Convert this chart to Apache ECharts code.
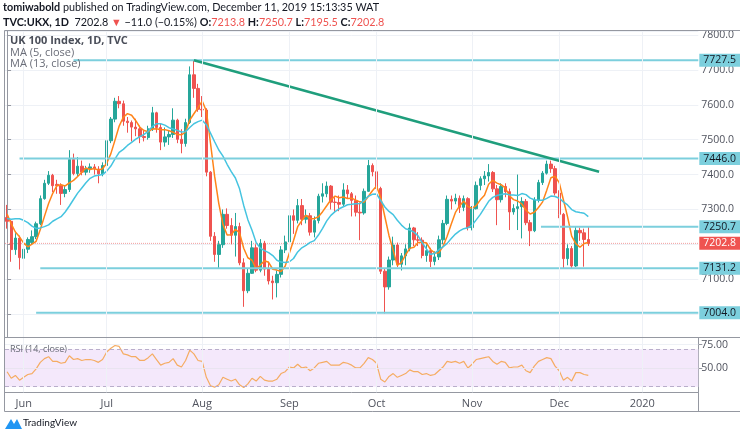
<!DOCTYPE html>
<html><head><meta charset="utf-8">
<script src="https://cdn.jsdelivr.net/npm/echarts@6/dist/echarts.min.js"></script>
<style>html,body{margin:0;padding:0;background:#fff}#c{width:740px;height:437px}</style>
</head><body><div id="c"></div>
<script>
// ---- trading sessions (day numbers per month) ----
const sessionDays = [
  ['2019-05', [28,29,30,31]],
  ['2019-06', [3,4,5,6,7,10,11,12,13,14,17,18,19,20,21,24,25,26,27,28]],
  ['2019-07', [1,2,3,4,5,8,9,10,11,12,15,16,17,18,19,22,23,24,25,26,29,30,31]],
  ['2019-08', [1,2,5,6,7,8,9,12,13,14,15,16,19,20,21,22,23,27,28,29,30]],
  ['2019-09', [2,3,4,5,6,9,10,11,12,13,16,17,18,19,20,23,24,25,26,27,30]],
  ['2019-10', [1,2,3,4,7,8,9,10,11,14,15,16,17,18,21,22,23,24,25,28,29,30,31]],
  ['2019-11', [1,4,5,6,7,8,11,12,13,14,15,18,19,20,21,22,25,26,27,28,29]],
  ['2019-12', [2,3,4,5,6,9,10,11,12,13,16,17,18,19,20,23,24,27,30,31]],
  ['2020-01', [2,3,6,7,8,9,10,13,14,15,16,17,20,21]]
];
const monthTickLabels = ['Jun','Jul','Aug','Sep','Oct','Nov','Dec','2020'];

// ---- OHLC (UK 100, daily) ----
const opens = [7277,7266,7185,7218,7160,7186,7205,7222,7259,7331,7375,7398,7372,7368,7346,7357,7443,7403,7424,7407,7417,7422,7416,7402,
7426,7497,7559,7610,7603,7553,7549,7536,7531,7509,7506,7531,7577,7535,7493,7508,7515,7556,7501,7489,7549,7686,7647,7587,
7585,7407,7223,7171,7199,7286,7254,7226,7251,7147,7067,7117,7190,7126,7203,7129,7095,7090,7114,7184,
7207,7282,7269,7311,7272,7282,7235,7268,7338,7345,7367,7321,7320,7315,7356,7345,7326,7292,7290,7352,7426,
7408,7360,7123,7078,7155,7198,7143,7167,7187,7247,7213,7212,7168,7182,7151,7164,7213,7260,7329,7324,7332,7306,7331,
7248,7302,7369,7388,7396,7406,7359,7328,7366,7351,7293,7303,7308,7323,7262,7239,7327,7377,7404,7430,7417,
7347,7286,7159,7188,7138,7240,7233,7213.8];
const highs = [7313,7270,7232,7225,7195,7220,7240,7265,7340,7385,7410,7402,7385,7375,7368,7470,7460,7450,7440,7425,7432,7430,7424,7435,
7525,7565,7620,7625,7612,7565,7555,7560,7540,7525,7540,7594,7580,7545,7535,7525,7590,7560,7530,7560,7710,7727.5,7660,7625,
7590,7410,7235,7210,7300,7303,7275,7290,7262,7160,7130,7210,7200,7215,7210,7150,7110,7125,7195,7225,
7313,7300,7330,7330,7300,7290,7280,7345,7375,7380,7370,7335,7340,7375,7370,7350,7340,7320,7360,7442,7432,
7415,7365,7130,7165,7222,7205,7175,7200,7260,7250,7235,7220,7200,7190,7180,7225,7270,7340,7340,7345,7340,7340,
7335,7310,7380,7395,7410,7430,7410,7370,7375,7375,7360,7315,7400,7335,7330,7270,7335,7385,7410,7440,7440,
7425,7355,7290,7200,7195,7250,7248,7245,7250.7];
const lows = [7245,7150,7170,7128,7079,7175,7200,7215,7255,7328,7370,7350,7345,7313,7335,7350,7398,7395,7398,7398,7405,7400,7375,7395,
7426,7490,7550,7590,7540,7520,7495,7510,7490,7495,7500,7525,7520,7470,7480,7485,7505,7490,7461,7480,7545,7620,7580,7565,
7395,7210,7150,7130,7190,7245,7200,7165,7140,7021,7060,7115,7120,7120,7110,7085,7042,7048,7105,7175,
7200,7230,7260,7255,7260,7225,7220,7260,7320,7335,7300,7290,7295,7310,7330,7280,7280,7212,7285,7350,7395,
7350,7115,7002,7070,7140,7135,7125,7140,7180,7195,7195,7160,7150,7135,7140,7155,7200,7255,7300,7315,7290,7295,
7240,7240,7300,7355,7370,7380,7350,7255,7320,7335,7241,7285,7241,7217,7255,7195,7235,7320,7370,7400,7405,
7340,7275,7131,7140,7131,7135,7210,7136,7195.5];
const closes = [7266,7185,7218,7162,7186,7214,7222,7259,7331,7375,7398,7368,7368,7346,7357,7443,7403,7424,7407,7417,7422,7416,7402,7426,
7497,7559,7610,7603,7553,7549,7536,7531,7509,7506,7531,7577,7535,7493,7508,7515,7556,7501,7489,7549,7686,7647,7587,7585,
7407,7223,7171,7199,7286,7254,7226,7251,7147,7067,7117,7190,7126,7203,7129,7095,7090,7114,7184,7207,
7282,7269,7311,7272,7282,7235,7268,7338,7345,7367,7321,7320,7315,7356,7345,7326,7292,7290,7352,7426,7408,
7360,7123,7078,7155,7198,7143,7167,7187,7247,7213,7212,7168,7182,7151,7164,7213,7260,7329,7324,7332,7306,7331,
7248,7302,7369,7388,7396,7406,7359,7328,7366,7351,7293,7303,7308,7323,7262,7239,7327,7377,7404,7430,7417,
7347,7286,7159,7188,7138,7240,7233,7214,7202.8];
// sessions before the first visible bar, implied by the starting level of the MA lines
const priorCloses = [7208,7203,7164,7242,7297,7353,7348,7310,7328,7334,7231,7277];

// ---- RSI (14, close) ----
const rsi = [46,39,42,37,40,43,44,49,56,60,62,57,57,55,56,63,59,60,58,59,59,58,56,59,
67,71,74,73,65,64,62,62,58,58,61,65,59,53,55,56,60,53,51,58,69,65,58,57,
40,31,29.5,32,40,38,36,38,32,29,33,39,36,41,37,36,36,38,44,46,
51,50,54,50,51,47,50,55,56,57,53,53,53,56,55,53,50,50,55,61,59,
55,38,35,41,44,40,42,44,48,46,46,43,44,42,43,47,51,57,56,57,55,57,
50,54,59,60,61,62,57,54,57,56,50,51,51,53,47,45,52,57,59,61,60,
52,47,37,40,36,45,45,43,42];

// ---- drawn levels ----
const levelPrices = [7727.5, 7446.0, 7250.7, 7131.2, 7004.0];
const levelStartBar = [16, 3, 128.6, 8, 7];
const lastPrice = 7202.8;
const trendBars = [45, 142.6];
const trendPrices = [7727.5, 7408];
const rsiBands = [30, 70];
const rsiTickLabels = [50, 75];

// ---------------------------------------------------------------
const cats = [];
const monthStart = {};
sessionDays.forEach(([ym, days], mi) => {
  days.forEach((d, di) => {
    const s = ym + '-' + String(d).padStart(2, '0');
    cats.push(s);
    if (di === 0 && mi > 0) monthStart[s] = monthTickLabels[mi - 1];
  });
});
const rightEdge = cats.length - 0.5;

const candleData = opens.map((o, i) => [o, closes[i], lows[i], highs[i]]);
function movingAvg(n) {
  const all = priorCloses.concat(closes);
  const off = priorCloses.length;
  return closes.map((c, i) => {
    const j = i + off;
    const from = Math.max(0, j - n + 1);
    let s = 0; for (let k = from; k <= j; k++) s += all[k];
    return +(s / (j - from + 1)).toFixed(2);
  });
}
const ma5 = movingAvg(5), ma13 = movingAvg(13);

const GREEN = '#26a69a', RED = '#ef5350', LEVEL = '#7ccfdd';
const monthLines = Object.keys(monthStart).map(k => ({ xAxis: k }));
const FONT = 'Open Sans';
const HFONT = 'Lato', HSIZE = 10.8;

const series = [
  { type: 'line', xAxisIndex: 0, yAxisIndex: 0, data: [], z: 1, silent: true,
    markLine: { silent: true, symbol: 'none', label: { show: false },
      lineStyle: { color: '#eef1f6', width: 1, type: 'solid' }, data: monthLines } },
  { type: 'candlestick', xAxisIndex: 0, yAxisIndex: 0, data: candleData, barWidth: '70%', z: 2,
    itemStyle: { color: GREEN, color0: RED, borderColor: GREEN, borderColor0: RED, borderWidth: 1 } },
  { type: 'line', xAxisIndex: 0, yAxisIndex: 0, data: ma5, symbol: 'none', z: 3,
    lineStyle: { color: '#ff8419', width: 1.5 } },
  { type: 'line', xAxisIndex: 0, yAxisIndex: 0, data: ma13, symbol: 'none', z: 3,
    lineStyle: { color: '#45c4e0', width: 1.5 } },
  { type: 'line', xAxisIndex: 1, yAxisIndex: 0, data: [[-0.5, lastPrice], [rightEdge, lastPrice]], symbol: 'none', z: 2,
    lineStyle: { color: '#f3a0a0', width: 1, type: [1, 1] },
    endLabel: { show: true, formatter: () => lastPrice.toFixed(1), backgroundColor: RED, color: '#fff',
      fontSize: 10.5, fontFamily: FONT, padding: [1, 4, 1, 4], distance: 1 } },
];
levelPrices.forEach((p, i) => {
  series.push({ type: 'line', xAxisIndex: 1, yAxisIndex: 0, symbol: 'none', z: 4,
    data: [[levelStartBar[i], p], [rightEdge, p]],
    lineStyle: { color: LEVEL, width: 2 },
    endLabel: { show: true, formatter: () => p.toFixed(1), backgroundColor: LEVEL, color: '#131722',
      fontSize: 10.5, fontFamily: FONT, padding: [1, 4, 1, 4], distance: 1 } });
});
series.push({ type: 'line', xAxisIndex: 1, yAxisIndex: 0, symbol: 'none', z: 4,
  data: trendBars.map((b, i) => [b, trendPrices[i]]), lineStyle: { color: '#1f9e7c', width: 2.5 } });
series.push({ type: 'line', xAxisIndex: 2, yAxisIndex: 1, data: rsi, symbol: 'none', z: 3,
  lineStyle: { color: '#f5ac62', width: 1.2 },
  markArea: { silent: true, itemStyle: { color: '#f4e8fb' }, data: [[{ yAxis: rsiBands[0] }, { yAxis: rsiBands[1] }]] },
  markLine: { silent: true, symbol: 'none', label: { show: false },
    data: [
      { yAxis: rsiBands[0], lineStyle: { color: '#b9aecb', type: [4, 3], width: 1 } },
      { yAxis: rsiBands[1], lineStyle: { color: '#b9aecb', type: [4, 3], width: 1 } },
      { yAxis: rsiTickLabels[0], lineStyle: { color: '#e9e4f0', type: 'solid', width: 1 } },
      { yAxis: rsiTickLabels[1], lineStyle: { color: '#eef1f6', type: 'solid', width: 1 } }
    ].concat(monthLines.map(m => ({ xAxis: m.xAxis, lineStyle: { color: '#eef1f6', type: 'solid', width: 1 } }))) } });

const chart = echarts.init(document.getElementById('c'), null, { renderer: 'canvas' });
chart.setOption({
  animation: false,
  backgroundColor: '#fff',
  textStyle: { fontFamily: FONT },
  grid: [
    { left: 5, right: 41.7, top: 31, height: 306.5 },
    { left: 5, right: 41.7, top: 338, height: 54.3 }
  ],
  xAxis: [
    { type: 'category', gridIndex: 0, data: cats, boundaryGap: true,
      axisLine: { show: false }, axisTick: { show: false }, axisLabel: { show: false }, splitLine: { show: false } },
    { type: 'value', gridIndex: 0, min: -0.5, max: rightEdge, show: false },
    { type: 'category', gridIndex: 1, data: cats, boundaryGap: true,
      axisLine: { show: true, lineStyle: { color: '#9598a1' } }, axisTick: { show: false },
      axisLabel: { interval: (i, v) => monthStart[v] !== undefined, formatter: v => monthStart[v] || '',
        color: '#50535e', fontSize: 11, margin: 6, fontFamily: FONT },
      splitLine: { show: false } }
  ],
  yAxis: [
    { type: 'value', gridIndex: 0, position: 'right', min: 6933, max: 7811.5, splitNumber: 9,
      axisLine: { show: true, lineStyle: { color: '#9598a1' } },
      axisTick: { show: true, length: 4, lineStyle: { color: '#9598a1' } },
      axisLabel: { formatter: v => v.toFixed(1), color: '#50535e', fontSize: 10.5, margin: 3,
        showMinLabel: false, showMaxLabel: false, fontFamily: FONT },
      splitLine: { show: true, lineStyle: { color: '#eef1f6' } } },
    { type: 'value', gridIndex: 1, position: 'right', min: 24, max: 82,
      axisLine: { show: true, lineStyle: { color: '#9598a1' } },
      axisTick: { show: true, length: 4, customValues: rsiTickLabels, lineStyle: { color: '#9598a1' } },
      axisLabel: { customValues: rsiTickLabels, formatter: v => v.toFixed(2), color: '#50535e', fontSize: 10.5, margin: 3, fontFamily: FONT },
      splitLine: { show: false } }
  ],
  series,
  graphic: [
    // frame
    { type: 'line', shape: { x1: 4.5, y1: 30.5, x2: 740, y2: 30.5 }, style: { stroke: '#9598a1', lineWidth: 1 }, z: 100 },
    { type: 'line', shape: { x1: 4.5, y1: 30.5, x2: 4.5, y2: 411.5 }, style: { stroke: '#9598a1', lineWidth: 1 }, z: 100 },
    { type: 'line', shape: { x1: 4.5, y1: 411.5, x2: 740, y2: 411.5 }, style: { stroke: '#9598a1', lineWidth: 1 }, z: 100 },
    { type: 'line', shape: { x1: 4.5, y1: 337.5, x2: 740, y2: 337.5 }, style: { stroke: '#9598a1', lineWidth: 1 }, z: 100 },
    { type: 'line', shape: { x1: 698.5, y1: 392.5, x2: 698.5, y2: 411.5 }, style: { stroke: '#9598a1', lineWidth: 1 }, z: 100 },
    // header
    { type: 'text', left: 3, top: 2.5, z: 100, style: { text: '{b|tomiwabold} published on TradingView.com, December 11, 2019 15:13:35 WAT',
      fontSize: HSIZE, fontFamily: HFONT, fill: '#131722',
      rich: { b: { fontWeight: 'bold', fontSize: HSIZE, fontFamily: HFONT, fill: '#131722' } } } },
    { type: 'text', left: 3, top: 17, z: 100, style: {
      text: '{b|TVC:UKX, 1D}  7202.8 {r|▼} −11.0 (−0.15%) {b|O:}{r|7213.8} {b|H:}{r|7250.7} {b|L:}{r|7195.5} {b|C:}{r|7202.8}',
      fontSize: HSIZE, fontFamily: HFONT, fill: '#131722',
      rich: { b: { fontWeight: 'bold', fontSize: HSIZE, fontFamily: HFONT, fill: '#131722' },
              r: { fontSize: HSIZE, fontFamily: HFONT, fill: RED } } } },
    // legend
    { type: 'text', left: 10, top: 35, z: 100, style: { text: 'UK 100 Index, 1D, TVC', font: 'bold 11px "Open Sans"', fill: '#4a4e59' } },
    { type: 'text', left: 10, top: 47, z: 100, style: { text: 'MA (5, close)', font: '11px "Open Sans"', fill: '#6a6d78' } },
    { type: 'text', left: 10, top: 58.5, z: 100, style: { text: 'MA (13, close)', font: '11px "Open Sans"', fill: '#6a6d78' } },
    { type: 'text', left: 10, top: 345, z: 100, style: { text: 'RSI (14, close)', font: '9px "Open Sans"', fill: '#6a6d78' } },
    // footer logo
    { type: 'polygon', z: 100, shape: { points: [[5, 429], [11, 419], [14, 424], [17, 419], [22, 429]] }, style: { fill: '#2196f3' } },
    { type: 'text', left: 23, top: 418, z: 100, style: { text: 'TradingView', font: '10px Lato', fill: '#131722' } }
  ]
});
</script></body></html>
